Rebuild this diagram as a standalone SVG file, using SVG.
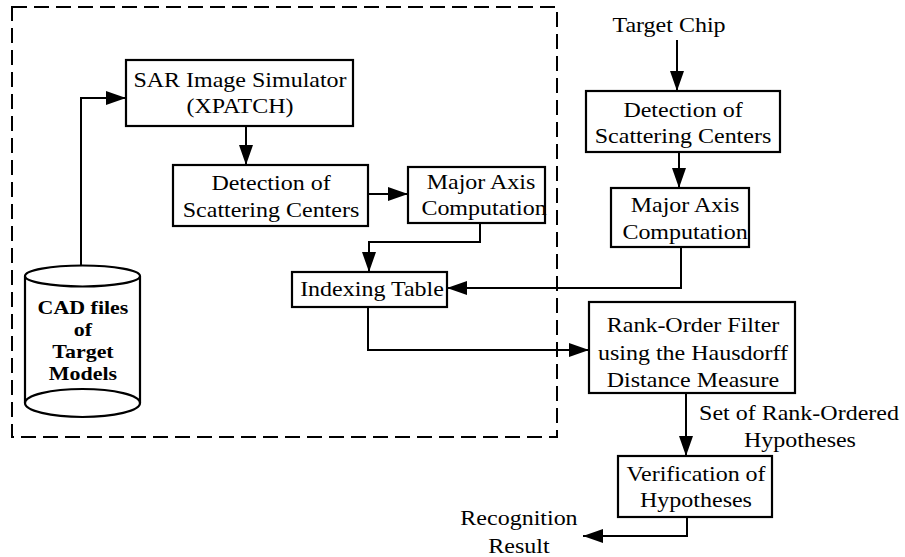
<svg xmlns="http://www.w3.org/2000/svg" width="905" height="557" viewBox="0 0 905 557">
<style>
.bx{fill:#fff;stroke:#000;stroke-width:2.2}
.cn{fill:none;stroke:#000;stroke-width:2}
.t{font-family:"Liberation Serif","Times New Roman",serif;font-size:20px;text-anchor:middle;fill:#000}
.tb{font-family:"Liberation Serif","Times New Roman",serif;font-size:18px;font-weight:bold;text-anchor:middle;fill:#000}
.dash{fill:none;stroke:#000;stroke-width:2;stroke-dasharray:15 7}
</style>
<defs>
<marker id="ah" markerUnits="userSpaceOnUse" markerWidth="20" markerHeight="14" refX="20" refY="7" orient="auto">
<path d="M0,0 L20,7 L0,14 z" fill="#000"/>
</marker>
</defs>
<rect id="boundary" class="dash" x="12" y="7" width="545" height="430"/>
<g id="connectors">
<path class="cn" d="M81,265 V98 H126" marker-end="url(#ah)"/>
<path class="cn" d="M246,126 V165" marker-end="url(#ah)"/>
<path class="cn" d="M368,194 H408" marker-end="url(#ah)"/>
<path class="cn" d="M480,223 V242 H369 V272" marker-end="url(#ah)"/>
<path class="cn" d="M677,40 V91" marker-end="url(#ah)"/>
<path class="cn" d="M679,152 V188" marker-end="url(#ah)"/>
<path class="cn" d="M681,247 V288 H447" marker-end="url(#ah)"/>
<path class="cn" d="M368,307 V350 H589" marker-end="url(#ah)"/>
<path class="cn" d="M686,393 V456" marker-end="url(#ah)"/>
<path class="cn" d="M687,517 V536 H583" marker-end="url(#ah)"/>
</g>
<g id="cad">
<path class="bx" d="M25,276 V403 A57.5,14 0 0 0 140,403 V276"/>
<ellipse class="bx" cx="82.5" cy="276" rx="57.5" ry="10.5"/>
<path class="cn" d="M25,403 A57.5,14 0 0 1 140,403" style="stroke-width:2.2"/>
<text class="tb" transform="translate(83 314) scale(1.22 1)">CAD files</text>
<text class="tb" transform="translate(83 336) scale(1.22 1)">of</text>
<text class="tb" transform="translate(83 358) scale(1.22 1)">Target</text>
<text class="tb" transform="translate(83 380) scale(1.22 1)">Models</text>
</g>
<g id="sar">
<rect class="bx" x="126" y="60" width="227" height="66"/>
<text class="t" transform="translate(240 87) scale(1.2 1)">SAR Image Simulator</text>
<text class="t" transform="translate(240 113) scale(1.2 1)">(XPATCH)</text>
</g>
<g id="det1">
<rect class="bx" x="173" y="165" width="195" height="61"/>
<text class="t" transform="translate(271 190) scale(1.2 1)">Detection of</text>
<text class="t" transform="translate(271 217) scale(1.2 1)">Scattering Centers</text>
</g>
<g id="maj1">
<rect class="bx" x="408" y="167" width="137" height="56"/>
<text class="t" transform="translate(481 189) scale(1.2 1)">Major Axis</text>
<text class="t" transform="translate(484 215) scale(1.2 1)">Computation</text>
</g>
<g id="index">
<rect class="bx" x="292" y="272" width="155" height="35"/>
<text class="t" transform="translate(372 296) scale(1.2 1)">Indexing Table</text>
</g>
<g id="chip">
<text class="t" transform="translate(669 32) scale(1.2 1)">Target Chip</text>
</g>
<g id="det2">
<rect class="bx" x="586" y="91" width="194" height="61"/>
<text class="t" transform="translate(683 117) scale(1.2 1)">Detection of</text>
<text class="t" transform="translate(683 143) scale(1.2 1)">Scattering Centers</text>
</g>
<g id="maj2">
<rect class="bx" x="611" y="188" width="138" height="59"/>
<text class="t" transform="translate(685 212) scale(1.2 1)">Major Axis</text>
<text class="t" transform="translate(685 239) scale(1.2 1)">Computation</text>
</g>
<g id="rank">
<rect class="bx" x="589" y="302" width="206" height="91"/>
<text class="t" transform="translate(693 332) scale(1.2 1)">Rank-Order Filter</text>
<text class="t" transform="translate(693 360) scale(1.2 1)">using the Hausdorff</text>
<text class="t" transform="translate(693 387) scale(1.2 1)">Distance Measure</text>
</g>
<g id="setlabel">
<text class="t" transform="translate(799 420) scale(1.2 1)">Set of Rank-Ordered</text>
<text class="t" transform="translate(800 447) scale(1.2 1)">Hypotheses</text>
</g>
<g id="verify">
<rect class="bx" x="618" y="456" width="154" height="61"/>
<text class="t" transform="translate(696 481) scale(1.2 1)">Verification of</text>
<text class="t" transform="translate(696 507) scale(1.2 1)">Hypotheses</text>
</g>
<g id="result">
<text class="t" transform="translate(519 525) scale(1.2 1)">Recognition</text>
<text class="t" transform="translate(519 553) scale(1.2 1)">Result</text>
</g>
</svg>
